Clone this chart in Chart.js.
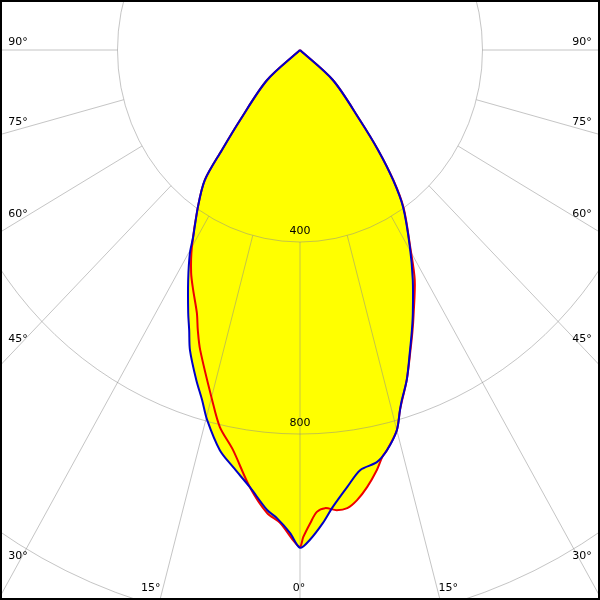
<!DOCTYPE html>
<html>
<head>
<meta charset="utf-8">
<script src="https://cdn.jsdelivr.net/npm/chart.js@4.4.1/dist/chart.umd.min.js"></script>
<style>
    html, body { margin: 0; padding: 0; background: #ffffff; overflow: hidden; }
    #polarChart { display: block; background: #ffffff; }
</style>
</head>
<body>
<canvas id="polarChart" width="600" height="600"></canvas>
<script>
// angles in degrees from nadir (negative = left half), intensities in cd
const blueAngles = [-90, -49, -42, -39.4, -37.6, -34.4, -31, -29.7, -27.1, -24.1, -22.6, -21.1, -18.3, -16.4, -14.8, -11.9, -9.6, -6.9, -4.3, -3, -1.25, 0,
    1.2, 2.9, 4.3, 6.5, 8.6, 11.1, 12.9, 15, 16.3, 17, 18.8, 21.1, 22.8, 24.3, 27.3, 30.4, 34.6, 37, 39.4, 42, 49, 90];
const blueValues = [0, 96, 196, 270, 342, 396, 455, 487, 538, 600, 632, 670, 724, 760, 797, 852, 881, 917, 961, 976, 1006, 1037,
    1021, 987, 955, 916, 885, 875, 855, 820, 781, 763, 726, 670, 633, 601, 539, 476, 398, 339, 270, 196, 96, 0];

const redAngles = [-90, -49, -42, -39.4, -37.6, -34.4, -30, -27.2, -25.1, -22.4, -21, -19.3, -14.8, -12.6, -10, -6.9, -4.3, -2.55, -0.86, 0,
    0.4, 1.3, 2.2, 3.3, 4.8, 6.2, 7.6, 9.2, 10.9, 12, 12.9, 15, 16.3, 18.8, 21.1, 22.8, 24.3, 27.7, 30.4, 34.6, 37, 39.4, 42, 49, 90];
const redValues = [0, 96, 196, 270, 342, 396, 474, 522, 552, 593, 625, 662, 754, 805, 846, 917, 967, 986, 1021, 1035,
    1015, 986, 963, 956, 962, 960, 946, 922, 891, 867, 855, 820, 781, 726, 672, 636, 605, 541, 478, 400, 341, 270, 196, 96, 0];

const ringValues = [400, 800, 1200];
const gridAngles = [-90, -75, -60, -45, -30, -15, 0, 15, 30, 45, 60, 75, 90];

function toPoints(angles, values) {
    return angles.map(function (a, i) {
        const r = a * Math.PI / 180;
        return { x: values[i] * Math.sin(r), y: -values[i] * Math.cos(r) };
    });
}

const gridColor = 'rgba(140,140,140,0.5)';
const labelFont = '11px "DejaVu Sans", sans-serif';

const polarGrid = {
    id: 'polarGrid',
    beforeDatasetsDraw: function (chart) {
        const ctx = chart.ctx;
        const xs = chart.scales.x;
        const ys = chart.scales.y;
        const area = chart.chartArea;
        const cx = xs.getPixelForValue(0);
        const cy = ys.getPixelForValue(0);
        ctx.save();
        ctx.beginPath();
        ctx.rect(area.left, area.top, area.right - area.left, area.bottom - area.top);
        ctx.clip();
        ctx.strokeStyle = gridColor;
        ctx.lineWidth = 1;
        ringValues.forEach(function (v) {
            const rx = xs.getPixelForValue(v) - cx;
            const ry = ys.getPixelForValue(-v) - cy;
            ctx.beginPath();
            ctx.ellipse(cx, cy, rx, ry, 0, 0, Math.PI * 2);
            ctx.stroke();
        });
        gridAngles.forEach(function (a) {
            const r = a * Math.PI / 180;
            const inner = ringValues[0];
            const outer = 4000;
            ctx.beginPath();
            ctx.moveTo(xs.getPixelForValue(inner * Math.sin(r)), ys.getPixelForValue(-inner * Math.cos(r)));
            ctx.lineTo(xs.getPixelForValue(outer * Math.sin(r)), ys.getPixelForValue(-outer * Math.cos(r)));
            ctx.stroke();
        });
        ctx.restore();
    },
    afterDraw: function (chart) {
        const ctx = chart.ctx;
        const xs = chart.scales.x;
        const ys = chart.scales.y;
        const cx = xs.getPixelForValue(0);
        const cy = ys.getPixelForValue(0);
        ctx.save();
        ctx.fillStyle = '#000000';
        ctx.font = labelFont;

        // ring labels on the nadir axis
        ctx.textAlign = 'center';
        ctx.textBaseline = 'bottom';
        ringValues.forEach(function (v) {
            const py = ys.getPixelForValue(-v);
            if (py < chart.height - 20) {
                ctx.fillText(String(v), cx, py - 5);
            }
        });

        // angle labels where the radial lines reach the frame
        gridAngles.forEach(function (a) {
            const r = a * Math.PI / 180;
            const dx = xs.getPixelForValue(1000 * Math.sin(r)) - cx;
            const dy = ys.getPixelForValue(-1000 * Math.cos(r)) - cy;
            const text = Math.abs(a) + '\u00b0';
            const sideX = a < 0 ? 18 : chart.width - 18;
            let sideY = Infinity;
            if (dx !== 0) {
                sideY = cy + (sideX - cx) / dx * dy;
            }
            if (sideY < 570) {
                ctx.textAlign = 'center';
                ctx.fillText(text, sideX, sideY - 2);
            } else {
                const by = 594;
                const bx = cx + (by - cy) / dy * dx;
                if (a < 0) {
                    ctx.textAlign = 'right';
                    ctx.fillText(text, bx - 1, by);
                } else if (a > 0) {
                    ctx.textAlign = 'left';
                    ctx.fillText(text, bx, by);
                } else {
                    ctx.textAlign = 'center';
                    ctx.fillText(text, bx - 1, by);
                }
            }
        });

        // frame
        ctx.strokeStyle = '#000000';
        ctx.lineWidth = 2;
        ctx.strokeRect(1, 1, chart.width - 2, chart.height - 2);
        ctx.restore();
    }
};

document.addEventListener('DOMContentLoaded', function () {
    const canvas = document.getElementById('polarChart');
    new Chart(canvas, {
        type: 'scatter',
        data: {
            datasets: [{
                label: 'C90-C270',
                data: toPoints(blueAngles, blueValues),
                showLine: true,
                fill: 'shape',
                backgroundColor: '#ffff00',
                borderColor: '#0000c8',
                borderWidth: 2,
                pointRadius: 0,
                tension: 0.3
            }, {
                label: 'C0-C180',
                data: toPoints(redAngles, redValues),
                showLine: true,
                fill: 'shape',
                backgroundColor: '#ffff00',
                borderColor: '#ee0000',
                borderWidth: 2,
                pointRadius: 0,
                tension: 0.3
            }]
        },
        options: {
            responsive: false,
            animation: false,
            layout: { padding: 0 },
            scales: {
                x: { type: 'linear', display: false, min: -657.5, max: 657.5 },
                y: { type: 'linear', display: false, min: -1145.8, max: 104.2 }
            },
            plugins: {
                legend: { display: false },
                tooltip: { enabled: false },
                filler: { drawTime: 'beforeDraw' }
            }
        },
        plugins: [polarGrid]
    });
});
</script>
</body>
</html>
